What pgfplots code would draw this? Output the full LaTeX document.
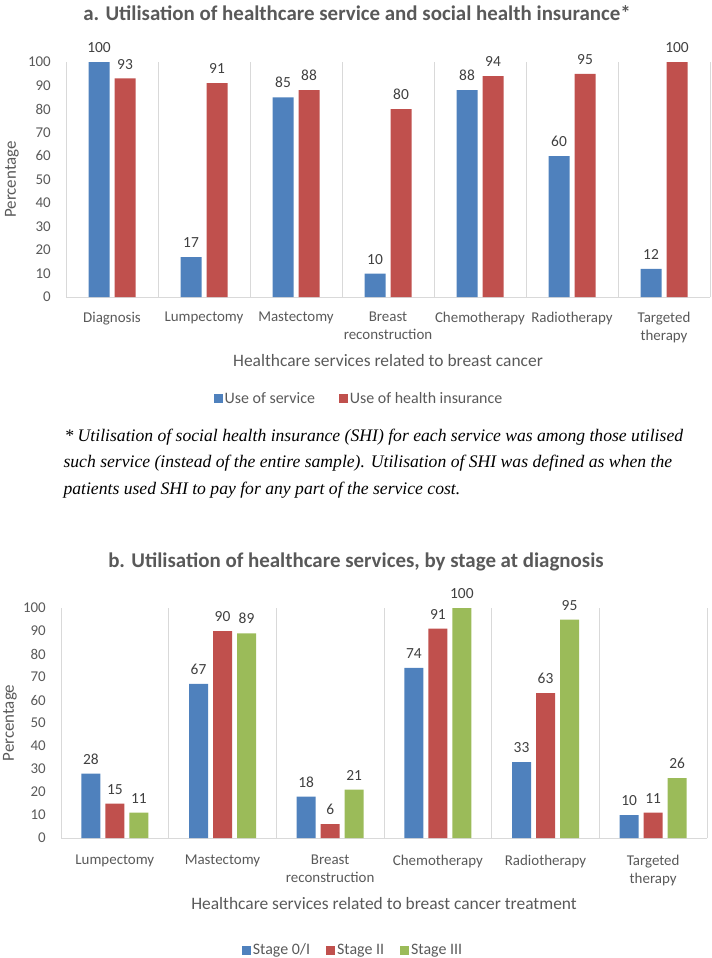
\documentclass[border=0pt]{standalone}
\usepackage{pgfplots}
\pgfplotsset{compat=1.18}
\usepackage{fontspec}
\setmainfont{Carlito}
\newfontfamily\notefont{Liberation Serif}
\definecolor{cblue}{HTML}{4F81BD}
\definecolor{cred}{HTML}{C0504D}
\definecolor{cgreen}{HTML}{9BBB59}
\definecolor{txtgray}{HTML}{595959}
\definecolor{lblgray}{HTML}{404040}
\definecolor{gridgray}{HTML}{D9D9D9}
\pgfplotsset{
  /pgf/number format/assume math mode=true,
  mybase/.style={
    scale only axis, clip=false,
    ymin=0, ymax=100, ytick={0,10,...,100},
    axis x line*=bottom, axis y line*=left,
    axis line style={-},
    x axis line style={draw=gridgray, line width=0.8bp},
    y axis line style={draw=none},
    major tick length=0pt, minor tick length=0pt,
    xminorgrids=true,
    minor grid style={draw=gridgray, line width=0.8bp},
    tick label style={font=\fontsize{15}{18}\selectfont, text=txtgray},
    yticklabel style={anchor=east, inner sep=0pt, xshift=-15bp},
    xticklabel style={anchor=north, inner sep=0pt, align=center},
    xlabel style={font=\fontsize{17.5}{20}\selectfont, text=txtgray, anchor=center},
    ylabel style={font=\fontsize{17}{20}\selectfont, text=txtgray, anchor=center, rotate=0},
    legend style={draw=none, fill=none, font=\fontsize{16}{18}\selectfont, text=txtgray,
      legend columns=-1, anchor=center},
    legend cell align=left,
    every node near coord/.append style={font=\fontsize{15.5}{18}\selectfont, text=lblgray, anchor=south, inner sep=0pt, yshift=9bp},
  }
}
\begin{document}
\begin{tikzpicture}
\path[use as bounding box] (0bp,0bp) rectangle (712bp,-958bp);
% Title a
\node[font=\bfseries\fontsize{21}{24}\selectfont, text=txtgray] at (357bp,-13bp) {a. Utilisation of healthcare service and social health insurance*};
\begin{axis}[mybase,
  at={(66bp,-297bp)}, anchor=south west, width=644bp, height=235bp,
  xmin=-0.5, xmax=6.5, xtick={0,...,6}, minor xtick={-0.5,0.5,...,6.5},
  xticklabel style={yshift=-15bp},
  xticklabels={Diagnosis,Lumpectomy,Mastectomy,{Breast\\reconstruction},Chemotherapy,Radiotherapy,{Targeted\\therapy}},
  xlabel={Healthcare services related to breast cancer},
  xlabel style={at={(axis description cs:0.5,-0.269)}},
  ylabel={Percentage},
  ylabel style={at={(axis description cs:-0.084,0.5)}},
  legend style={at={(0.5,-0.432)}, xshift=-29bp,
    /tikz/every even column/.append style={column sep=22bp}},
]
\addplot[ybar, bar width=21bp, bar shift=-13bp, fill=cblue, draw=none, nodes near coords,
  every node near coord/.append style={xshift=-13bp},
  legend image code/.code={\fill[cblue] (0bp,-4.5bp) rectangle (9bp,4.5bp);}]
  coordinates {(0,100) (1,17) (2,85) (3,10) (4,88) (5,60) (6,12)};
\addplot[ybar, bar width=21bp, bar shift=13bp, fill=cred, draw=none, nodes near coords,
  every node near coord/.append style={xshift=13bp},
  legend image code/.code={\fill[cred] (0bp,-4.5bp) rectangle (9bp,4.5bp);}]
  coordinates {(0,93) (1,91) (2,88) (3,80) (4,94) (5,95) (6,100)};
\legend{Use of service, Use of health insurance}
\end{axis}
% Note
\node[font=\notefont\itshape\fontsize{17.7}{20}\selectfont, anchor=base west] at (61bp,-441bp) {* Utilisation of social health insurance (SHI) for each service was among those utilised};
\node[font=\notefont\itshape\fontsize{17.7}{20}\selectfont, anchor=base west] at (60bp,-467.5bp) {such service (instead of the entire sample). Utilisation of SHI was defined as when the};
\node[font=\notefont\itshape\fontsize{17.7}{20}\selectfont, anchor=base west] at (60bp,-494bp) {patients used SHI to pay for any part of the service cost.};
% Title b
\node[font=\bfseries\fontsize{21}{24}\selectfont, text=txtgray] at (356bp,-562bp) {b. Utilisation of healthcare services, by stage at diagnosis};
\begin{axis}[mybase,
  at={(61bp,-838bp)}, anchor=south west, width=646bp, height=230bp,
  xmin=-0.5, xmax=5.5, xtick={0,...,5}, minor xtick={-0.5,0.5,...,5.5},
  xticklabel style={yshift=-17bp},
  xticklabels={Lumpectomy,Mastectomy,{Breast\\reconstruction},Chemotherapy,Radiotherapy,{Targeted\\therapy}},
  xlabel={Healthcare services related to breast cancer treatment},
  xlabel style={at={(axis description cs:0.5,-0.283)}},
  ylabel={Percentage},
  ylabel style={at={(axis description cs:-0.079,0.5)}},
  legend style={at={(0.5,-0.487)}, xshift=-31bp,
    /tikz/every even column/.append style={column sep=14bp}},
]
\addplot[ybar, bar width=19bp, bar shift=-24bp, fill=cblue, draw=none, nodes near coords,
  every node near coord/.append style={xshift=-24bp},
  legend image code/.code={\fill[cblue] (0bp,-4.5bp) rectangle (9bp,4.5bp);}]
  coordinates {(0,28) (1,67) (2,18) (3,74) (4,33) (5,10)};
\addplot[ybar, bar width=19bp, bar shift=0bp, fill=cred, draw=none, nodes near coords,
  legend image code/.code={\fill[cred] (0bp,-4.5bp) rectangle (9bp,4.5bp);}]
  coordinates {(0,15) (1,90) (2,6) (3,91) (4,63) (5,11)};
\addplot[ybar, bar width=19bp, bar shift=24bp, fill=cgreen, draw=none, nodes near coords,
  every node near coord/.append style={xshift=24bp},
  legend image code/.code={\fill[cgreen] (0bp,-4.5bp) rectangle (9bp,4.5bp);}]
  coordinates {(0,11) (1,89) (2,21) (3,100) (4,95) (5,26)};
\legend{Stage 0/I, Stage II, Stage III}
\end{axis}
\end{tikzpicture}
\end{document}
